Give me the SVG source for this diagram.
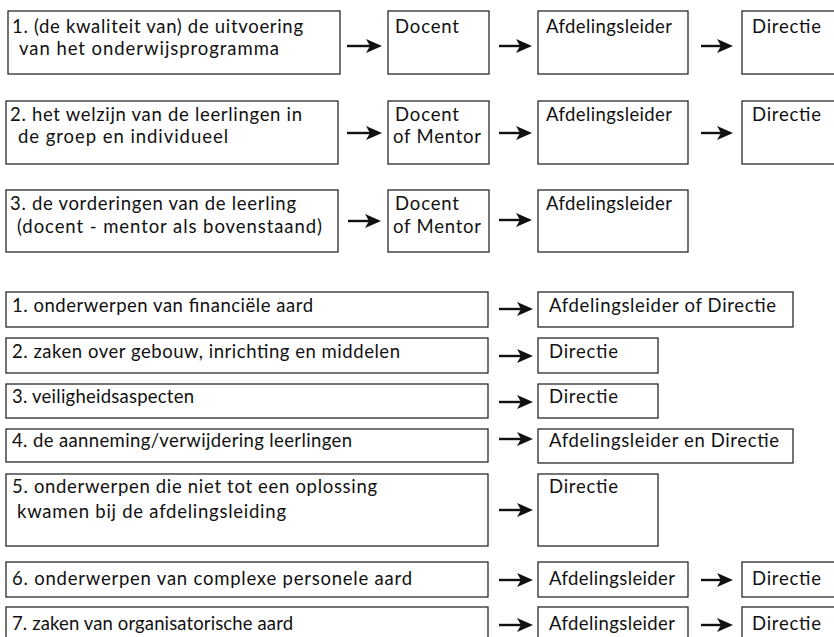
<svg xmlns="http://www.w3.org/2000/svg" width="834" height="637" viewBox="0 0 834 637">
<style>
rect{fill:#fff;stroke:#2a2a2a;stroke-width:1.3}
text{font-family:Lato,"Open Sans","Liberation Sans",sans-serif;font-size:18.5px;fill:#111}
.c line{stroke:#111;stroke-width:2.4;fill:none}
.c use{fill:#111}
</style>
<defs>
<path id="head" d="M0,0 L-16,-7 L-12,0 L-16,7 Z"/>
</defs>
<rect width="834" height="637" style="fill:#fff;stroke:none"/>

<g id="a1"><rect x="8" y="11" width="332" height="63"/><text x="12" y="33" textLength="291">1. (de kwaliteit van) de uitvoering</text><text x="19" y="55" textLength="260">van het onderwijsprogramma</text></g>
<g id="a1b"><rect x="388" y="11" width="101" height="63"/><text x="395" y="33" textLength="64">Docent</text></g>
<g id="a1c"><rect x="538" y="11" width="150" height="63"/><text x="546" y="33" textLength="126">Afdelingsleider</text></g>
<g id="a1d"><rect x="742" y="11" width="98" height="63"/><text x="752" y="33" textLength="69">Directie</text></g>

<g id="a2"><rect x="6" y="101" width="332" height="63"/><text x="10" y="121" textLength="292">2. het welzijn van de leerlingen in</text><text x="18" y="143" textLength="210">de groep en individueel</text></g>
<g id="a2b"><rect x="388" y="101" width="101" height="63"/><text x="395" y="121" textLength="64">Docent</text><text x="393" y="143" textLength="88">of Mentor</text></g>
<g id="a2c"><rect x="538" y="101" width="150" height="63"/><text x="546" y="121" textLength="126">Afdelingsleider</text></g>
<g id="a2d"><rect x="742" y="101" width="98" height="63"/><text x="752" y="121" textLength="69">Directie</text></g>

<g id="a3"><rect x="6" y="190" width="332" height="62"/><text x="10" y="210" textLength="286">3. de vorderingen van de leerling</text><text x="17" y="233" textLength="305">(docent - mentor als bovenstaand)</text></g>
<g id="a3b"><rect x="388" y="190" width="101" height="62"/><text x="395" y="210" textLength="64">Docent</text><text x="393" y="233" textLength="88">of Mentor</text></g>
<g id="a3c"><rect x="538" y="190" width="150" height="62"/><text x="546" y="210" textLength="126">Afdelingsleider</text></g>

<g id="b1"><rect x="6" y="292" width="482" height="35"/><text x="12" y="312" textLength="301">1. onderwerpen van financiële aard</text></g>
<g id="b1r"><rect x="538" y="292" width="255" height="35"/><text x="549" y="312" textLength="227">Afdelingsleider of Directie</text></g>
<g id="b2"><rect x="6" y="338" width="482" height="35"/><text x="12" y="358" textLength="388">2. zaken over gebouw, inrichting en middelen</text></g>
<g id="b2r"><rect x="538" y="338" width="120" height="35"/><text x="549" y="358" textLength="69">Directie</text></g>
<g id="b3"><rect x="6" y="384" width="482" height="34"/><text x="12" y="403" textLength="182">3. veiligheidsaspecten</text></g>
<g id="b3r"><rect x="538" y="384" width="120" height="34"/><text x="549" y="403" textLength="69">Directie</text></g>
<g id="b4"><rect x="6" y="429" width="482" height="33"/><text x="12" y="447" textLength="340">4. de aanneming/verwijdering leerlingen</text></g>
<g id="b4r"><rect x="538" y="429" width="255" height="34"/><text x="549" y="447" textLength="230">Afdelingsleider en Directie</text></g>
<g id="b5"><rect x="6" y="474" width="482" height="72"/><text x="12" y="493" textLength="365">5. onderwerpen die niet tot een oplossing</text><text x="17" y="518" textLength="269">kwamen bij de afdelingsleiding</text></g>
<g id="b5r"><rect x="538" y="474" width="120" height="72"/><text x="549" y="493" textLength="69">Directie</text></g>
<g id="b6"><rect x="6" y="562" width="482" height="35"/><text x="12" y="585" textLength="400">6. onderwerpen van complexe personele aard</text></g>
<g id="b6r"><rect x="538" y="562" width="150" height="35"/><text x="549" y="585" textLength="126">Afdelingsleider</text></g>
<g id="b6d"><rect x="742" y="562" width="98" height="35"/><text x="752" y="585" textLength="69">Directie</text></g>
<g id="b7"><rect x="6" y="607" width="482" height="40"/><text x="12" y="630" textLength="281">7. zaken van organisatorische aard</text></g>
<g id="b7r"><rect x="538" y="607" width="150" height="40"/><text x="549" y="630" textLength="126">Afdelingsleider</text></g>
<g id="b7d"><rect x="742" y="607" width="98" height="40"/><text x="752" y="630" textLength="69">Directie</text></g>

<g id="connectors" class="c">
<line x1="347" y1="46" x2="371" y2="46"/><use href="#head" x="382" y="46"/>
<line x1="499" y1="46" x2="521" y2="46"/><use href="#head" x="532" y="46"/>
<line x1="701" y1="46" x2="722" y2="46"/><use href="#head" x="733" y="46"/>
<line x1="347" y1="133" x2="371" y2="133"/><use href="#head" x="382" y="133"/>
<line x1="499" y1="133" x2="521" y2="133"/><use href="#head" x="532" y="133"/>
<line x1="701" y1="133" x2="722" y2="133"/><use href="#head" x="733" y="133"/>
<line x1="348" y1="221" x2="370" y2="221"/><use href="#head" x="381" y="221"/>
<line x1="499" y1="220" x2="521" y2="220"/><use href="#head" x="532" y="220"/>
<line x1="499" y1="309" x2="522" y2="309"/><use href="#head" x="533" y="309"/>
<line x1="499" y1="356" x2="522" y2="356"/><use href="#head" x="533" y="356"/>
<line x1="499" y1="402" x2="522" y2="402"/><use href="#head" x="533" y="402"/>
<line x1="499" y1="439" x2="522" y2="439"/><use href="#head" x="533" y="439"/>
<line x1="499" y1="510" x2="522" y2="510"/><use href="#head" x="533" y="510"/>
<line x1="499" y1="580" x2="522" y2="580"/><use href="#head" x="533" y="580"/>
<line x1="701" y1="580" x2="722" y2="580"/><use href="#head" x="733" y="580"/>
<line x1="499" y1="625" x2="522" y2="625"/><use href="#head" x="533" y="625"/>
<line x1="701" y1="625" x2="722" y2="625"/><use href="#head" x="733" y="625"/>
</g>
</svg>
